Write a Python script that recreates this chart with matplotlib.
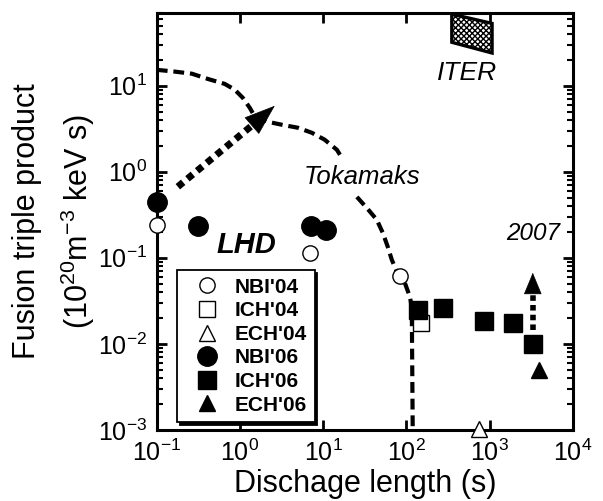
import numpy as np
import matplotlib.pyplot as plt
from matplotlib.patches import Polygon

plt.rcParams['font.family'] = ['Liberation Sans', 'DejaVu Sans']
plt.rcParams['mathtext.fontset'] = 'custom'
plt.rcParams['mathtext.rm'] = 'Liberation Sans'
plt.rcParams['mathtext.it'] = 'Liberation Sans:italic'
plt.rcParams['mathtext.bf'] = 'Liberation Sans:bold'
plt.rcParams['axes.unicode_minus'] = False

# LHD data points (discharge length s, triple product 1e20 m-3 keV s)
nbi04_x = [0.1, 7.0, 83]
nbi04_y = [0.24, 0.115, 0.062]
ich04_x = [148]
ich04_y = [0.0175]
ech04_x = [740]
ech04_y = [0.00103]
nbi06_x = [0.1, 0.31, 7.2, 10.7]
nbi06_y = [0.45, 0.235, 0.235, 0.21]
ich06_x = [137, 275, 850, 1900, 3300]
ich06_y = [0.025, 0.026, 0.0185, 0.0175, 0.0100]
ech06_x = [3900]
ech06_y = [0.0050]

# tokamak envelope (dashed), two pieces split around the label
tok1_x = [0.1, 0.164, 0.264, 0.41, 0.656, 0.866, 1.08, 1.31, 1.51, 2.16,
          3.18, 4.95, 7.3, 10.4, 14.6, 16.7]
tok1_y = [15.3, 14.6, 13.8, 12.0, 10.5, 8.98, 7.24, 5.54, 4.36, 3.81,
          3.52, 3.25, 2.84, 2.36, 1.80, 1.46]
tok2_x = [25.4, 33.4, 44, 52, 59.7, 66.7, 76.7, 95.7, 110, 116, 119]
tok2_y = [0.51, 0.38, 0.277, 0.195, 0.134, 0.095, 0.0688, 0.0512, 0.0352,
          0.0269, 0.001]

# ITER region corners
iter_x = [351, 1070, 1070, 351]
iter_y = [68, 53, 24, 32]

# progress arrows: shaft start, head base, tip
lhd_arrow_x = [0.179, 1.43, 2.62]
lhd_arrow_y = [0.67, 3.52, 5.85]
arr2007_x = [3300, 3300, 3300]
arr2007_y = [0.0146, 0.039, 0.067]

fig = plt.figure(figsize=(6.03, 5.01), dpi=100)
ax = fig.add_axes([0.260, 0.142, 0.690, 0.832])
ax.set_xscale('log')
ax.set_yscale('log')
ax.set_xlim(0.1, 1e4)
ax.set_ylim(1e-3, 70)

ax.plot(tok1_x, tok1_y, color='k', lw=3.0, dashes=(2.6, 1.4), zorder=2)
ax.plot(tok2_x, tok2_y, color='k', lw=3.0, dashes=(2.6, 1.4), zorder=2)

ax.add_patch(Polygon(list(zip(iter_x, iter_y)), closed=True, facecolor='white',
                     edgecolor='k', lw=2.4, hatch='xxxxxx', zorder=3,
                     clip_on=False))

# LHD arrow
ax.plot(lhd_arrow_x[:2], lhd_arrow_y[:2], color='k', lw=5.0, dashes=(1.0, 0.8),
        zorder=2)
ax.annotate('', xy=(lhd_arrow_x[2], lhd_arrow_y[2]),
            xytext=(lhd_arrow_x[1], lhd_arrow_y[1]),
            arrowprops=dict(arrowstyle='-|>,head_length=2.1,head_width=0.75',
                            color='k', lw=0.5, shrinkA=0, shrinkB=0), zorder=3)
# 2007 arrow
ax.plot(arr2007_x[:2], arr2007_y[:2], color='k', lw=4.0, dashes=(1.0, 0.75),
        zorder=2)
ax.annotate('', xy=(arr2007_x[2], arr2007_y[2]),
            xytext=(arr2007_x[1], arr2007_y[1]),
            arrowprops=dict(arrowstyle='-|>,head_length=1.45,head_width=0.6',
                            color='k', lw=0.5, shrinkA=0, shrinkB=0), zorder=3)

ms_open = 11
ax.plot(nbi04_x, nbi04_y, 'o', mfc='white', mec='k', mew=1.0, ms=ms_open,
        label="NBI'04", clip_on=False, zorder=4)
ax.plot(ich04_x, ich04_y, 's', mfc='white', mec='k', mew=1.0, ms=ms_open,
        label="ICH'04", clip_on=False, zorder=4)
ax.plot(ech04_x, ech04_y, '^', mfc='white', mec='k', mew=1.0, ms=ms_open,
        label="ECH'04", clip_on=False, zorder=4)
ax.plot(nbi06_x, nbi06_y, 'o', color='k', ms=14, label="NBI'06",
        clip_on=False, zorder=5)
ax.plot(ich06_x, ich06_y, 's', color='k', ms=13, label="ICH'06",
        clip_on=False, zorder=5)
ax.plot(ech06_x, ech06_y, '^', color='k', ms=12, label="ECH'06",
        clip_on=False, zorder=5)

ax.text(540, 14, 'ITER', fontsize=19, style='italic', ha='center', va='center')
ax.text(29, 0.87, 'Tokamaks', fontsize=18.5, style='italic', ha='center',
        va='center')
ax.text(1.2, 0.14, 'LHD', fontsize=21, style='italic', weight='bold',
        ha='center', va='center')
ax.text(3300, 0.19, '2007', fontsize=17.5, style='italic', ha='center',
        va='center')

leg = ax.legend(loc='lower left', bbox_to_anchor=(0.048, 0.019), fancybox=False,
                shadow={'color': 'k', 'alpha': 1}, framealpha=1,
                edgecolor='k', prop={'weight': 'bold', 'size': 15},
                handletextpad=0.2, labelspacing=0.22, borderpad=0.35,
                handlelength=2.25, markerscale=1.0, borderaxespad=0)
leg.get_frame().set_linewidth(1.3)

ax.set_xlabel('Dischage length (s)', fontsize=22, labelpad=2)
ax.set_ylabel('Fusion triple product\n(10$^{20}$m$^{-3}$ keV s)', fontsize=22,
              linespacing=1.55, labelpad=1)

ax.set_xticks([0.1, 1, 10, 100, 1000, 1e4])
ax.xaxis.set_minor_locator(plt.NullLocator())
ax.set_yticks([1e-3, 1e-2, 1e-1, 1, 10])
ax.tick_params(which='both', direction='in', top=True, right=True, width=2,
               labelsize=18)
ax.tick_params(which='major', length=7, pad=7)
ax.tick_params(which='minor', length=4.5, width=1.5)
for s in ax.spines.values():
    s.set_linewidth(2.2)

fig.savefig('out.png', dpi=100)
